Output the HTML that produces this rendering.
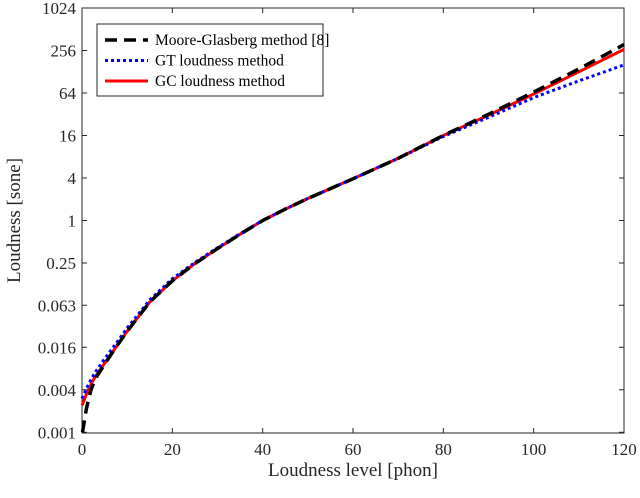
<!DOCTYPE html>
<html><head><meta charset="utf-8"><style>
body{margin:0;background:#fff}
svg{font-family:"Liberation Serif",serif}
</style></head><body>
<svg width="640" height="493" viewBox="0 0 640 493">
<g id="plot"></g>
</svg>
<script>
const xTicks=[0,20,40,60,80,100,120];
const yTickVals=[0.001,0.004,0.016,0.063,0.25,1,4,16,64,256,1024];
const yTickLabels=["0.001","0.004","0.016","0.063","0.25","1","4","16","64","256","1024"];
const xPts=[0,1,2,3,5,7.5,10,15,20,25,30,35,40,45,50,60,70,80,90,100,110,120];
const mgX=[0.1,1,2,3,5,7.5,10,15,20,25,30,35,40,45,50,60,70,80,90,100,110,120];
const mgVals=[0.001,0.0022,0.004,0.0058,0.0092,0.016,0.027,0.07,0.14,0.245,0.4,0.64,1,1.45,2.05,3.9,7.6,16,32,66,140,310];
const gtVals=[0.003,0.0042,0.0056,0.0072,0.011,0.018,0.03,0.075,0.15,0.255,0.41,0.65,1,1.45,2.05,3.9,7.6,15.5,29,55,95,160];
const gcVals=[0.0024,0.0035,0.0048,0.0062,0.0095,0.016,0.027,0.07,0.14,0.245,0.4,0.64,1,1.45,2.05,3.9,7.6,16,31,62,128,265];
const L=82,R=624,T=8,B=433;
const sx=v=>L+(v-0)/120*(R-L);
const sy=v=>B-(Math.log2(v)+10)/20*(B-T);
const NS="http://www.w3.org/2000/svg";
const g=document.getElementById('plot');
function mk(t,a,p){const e=document.createElementNS(NS,t);for(const k in a)e.setAttribute(k,a[k]);(p||g).appendChild(e);return e;}
const box=mk('rect',{x:L,y:T,width:R-L,height:B-T,fill:'none',stroke:'#262626','stroke-width':1});


xTicks.forEach(v=>{const x=sx(v);
 mk('line',{x1:x,x2:x,y1:B,y2:B-5,stroke:'#262626'});mk('line',{x1:x,x2:x,y1:T,y2:T+5,stroke:'#262626'});
 const t=mk('text',{x:x,y:B+22,'text-anchor':'middle','font-size':17,fill:'#262626'});t.textContent=v;
 
 });
yTickVals.forEach((v,i)=>{const y=sy(v);
 mk('line',{x1:L,x2:L+5,y1:y,y2:y,stroke:'#262626'});mk('line',{x1:R,x2:R-5,y1:y,y2:y,stroke:'#262626'});
 const t=mk('text',{x:L-6,y:y+6,'text-anchor':'end','font-size':17,fill:'#262626'});t.textContent=yTickLabels[i];
 
 });
function line(xs,vs,c,w,dash,name){const d=xs.map((x,i)=>(i?'L':'M')+sx(x).toFixed(1)+','+sy(vs[i]).toFixed(1)).join('');
 const p=mk('path',{d:d,fill:'none',stroke:c,'stroke-width':w,'stroke-dasharray':dash,'stroke-linejoin':'round'});
 
 }
line(xPts,gcVals,'#ff0000',3,'none','gc-series');
line(xPts,gtVals,'#0000ff',3,'3,3','gt-series');
line(mgX,mgVals,'#000000',3.5,'12,7','mg-series');
const xl=mk('text',{x:(L+R)/2,y:476,'text-anchor':'middle','font-size':19,fill:'#262626'});xl.textContent='Loudness level [phon]';


const yl=mk('text',{x:0,y:0,'text-anchor':'middle','font-size':19,fill:'#262626',transform:'translate(20,'+((T+B)/2)+') rotate(-90)'});yl.textContent='Loudness [sone]';


const lg=mk('g',{});


mk('rect',{x:97,y:24,width:226,height:72,fill:'#fff',stroke:'#262626'},lg);
const ent=[['Moore-Glasberg method [8]','#000','12,7',3.5],['GT loudness method','#0000ff','3,3',3],['GC loudness method','#ff0000','none',3]];
ent.forEach((e,i)=>{const y=40+i*20.5;
 mk('line',{x1:105,x2:148,y1:y,y2:y,stroke:e[1],'stroke-width':e[3],'stroke-dasharray':e[2]},lg);
 const t=mk('text',{x:155,y:y+5,'font-size':15.5,fill:'#000'},lg);t.textContent=e[0];
 
 });
</script>
</body></html>
